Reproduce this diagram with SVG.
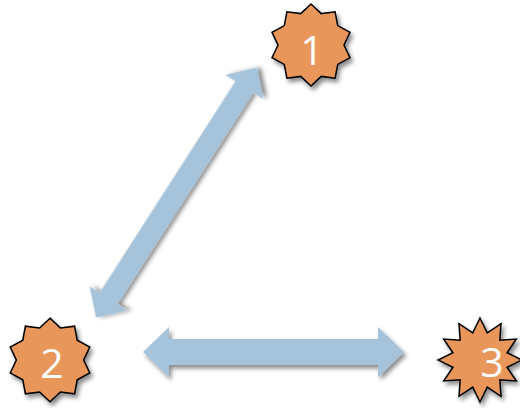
<svg xmlns="http://www.w3.org/2000/svg" width="520" height="408" viewBox="0 0 520 408">
<style>
.arrow{fill:#A5C3DB;filter:url(#shadow);}
.star{fill:#E8965A;stroke:#000;stroke-width:1.5;stroke-linejoin:miter;filter:url(#shadow);}
.label{fill:#fff;font-family:"Open Sans","DejaVu Sans",sans-serif;font-weight:400;font-size:41px;text-anchor:middle;}
</style>
<defs>
<filter id="shadow" x="-20%" y="-20%" width="150%" height="150%">
<feDropShadow dx="2.5" dy="3.5" stdDeviation="2.2" flood-color="#000" flood-opacity="0.45"/>
</filter>
<polygon id="star10" points="0,-41 10.2,-31.39 24.1,-33.17 26.7,-19.4 38.99,-12.67 33,0 38.99,12.67 26.7,19.4 24.1,33.17 10.2,31.39 0,41 -10.2,31.39 -24.1,33.17 -26.7,19.4 -38.99,12.67 -33,0 -38.99,-12.67 -26.7,-19.4 -24.1,-33.17 -10.2,-31.39"/>
<polygon id="star12" points="0,-42 7.25,-27.05 21,-36.37 19.8,-19.8 36.37,-21 27.05,-7.25 42,0 27.05,7.25 36.37,21 19.8,19.8 21,36.37 7.25,27.05 0,42 -7.25,27.05 -21,36.37 -19.8,19.8 -36.37,21 -27.05,7.25 -42,0 -27.05,-7.25 -36.37,-21 -19.8,-19.8 -21,-36.37 -7.25,-27.05"/>
</defs>
<g id="connectors">
<path class="arrow" transform="translate(176.35,192.7) rotate(-57.27)" d="M-148.6,0 L-125.6,-22.5 L-125.6,-10.5 L125.6,-10.5 L125.6,-22.5 L148.6,0 L125.6,22.5 L125.6,10.5 L-125.6,10.5 L-125.6,22.5 Z"/>
<path class="arrow" d="M143,352 L169,327 L169,339 L378,339 L378,327 L404,352 L378,377 L378,365 L169,365 L169,377 Z"/>
</g>
<g id="node1">
<use href="#star10" class="star" transform="translate(311,45)"/>
<text class="label" x="312" y="65">1</text>
</g>
<g id="node2">
<use href="#star10" class="star" transform="translate(50,360) scale(1.02)"/>
<text class="label" x="52" y="378">2</text>
</g>
<g id="node3">
<use href="#star12" class="star" transform="translate(480,360)"/>
<text class="label" x="492" y="377">3</text>
</g>
</svg>
